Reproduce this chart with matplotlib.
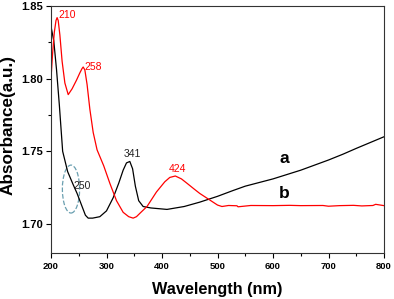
import matplotlib
matplotlib.use("Agg")
import matplotlib.pyplot as plt
from matplotlib.patches import Ellipse
from matplotlib.ticker import MultipleLocator

plt.rcParams['font.family'] = ['Liberation Sans', 'DejaVu Sans']

# curve a (black)
wl_a = [200, 205, 210, 215, 221, 230, 240, 247, 255, 262, 267, 275, 288, 300, 312, 322, 330,
        336, 342, 347, 352, 358, 366, 380, 409, 440, 468, 500, 528, 550, 600, 650, 700, 726, 750, 800]
abs_a = [1.836, 1.826, 1.806, 1.782, 1.750, 1.736, 1.727, 1.721, 1.713, 1.706, 1.704, 1.704, 1.705,
         1.709, 1.718, 1.728, 1.737, 1.742, 1.743, 1.738, 1.726, 1.716, 1.712, 1.711, 1.710, 1.712,
         1.715, 1.719, 1.723, 1.726, 1.731, 1.737, 1.744, 1.748, 1.752, 1.760]

# curve b (red)
wl_b = [200, 203, 206, 209, 211, 213, 216, 220, 225, 231, 238, 246, 252, 256, 258, 261, 265, 270,
        276, 283, 295, 306, 318, 330, 340, 348, 354, 362, 373, 390, 405, 414, 424, 435, 445, 458,
        468, 480, 492, 500, 508, 520, 535, 537, 560, 600, 630, 650, 690, 700, 720, 745, 760, 780,
        785, 800]
abs_b = [1.800, 1.818, 1.832, 1.840, 1.842, 1.840, 1.830, 1.812, 1.797, 1.789, 1.793, 1.799, 1.804,
         1.807, 1.808, 1.806, 1.796, 1.779, 1.763, 1.751, 1.740, 1.728, 1.716, 1.708, 1.705, 1.704,
         1.705, 1.708, 1.712, 1.722, 1.729, 1.732, 1.733, 1.731, 1.728, 1.724, 1.721, 1.718, 1.715,
         1.713, 1.712, 1.7127, 1.7125, 1.7118, 1.7127, 1.7126, 1.7128, 1.7126, 1.7127, 1.7122,
         1.7126, 1.7128, 1.7124, 1.7127, 1.7135, 1.7126]

fig = plt.figure(figsize=(3.94, 2.99), dpi=100)
ax = fig.add_axes([51/394, 1 - 253/299, 333/394, 247/299])

ax.plot(wl_a, abs_a, color='black', lw=0.9)
ax.plot(wl_b, abs_b, color='red', lw=0.9)

ax.set_xlim(200, 800)
ax.set_ylim(1.68, 1.85)
ax.xaxis.set_major_locator(MultipleLocator(100))
ax.xaxis.set_minor_locator(MultipleLocator(50))
ax.yaxis.set_major_locator(MultipleLocator(0.05))
ax.yaxis.set_minor_locator(MultipleLocator(0.025))
ax.tick_params(which='both', direction='out', top=False, right=False, width=0.8)
ax.tick_params(which='major', length=3.5)
ax.tick_params(which='minor', length=2)
ax.tick_params(axis='x', labelsize=6.8, pad=3)
ax.tick_params(axis='y', labelsize=8, pad=2)
for lab in ax.get_xticklabels() + ax.get_yticklabels():
    lab.set_fontweight('bold')
for s in ax.spines.values():
    s.set_linewidth(0.8)
    s.set_color('#333333')

ax.set_xlabel('Wavelength (nm)', fontsize=11.7, fontweight='bold')
ax.set_ylabel('Absorbance(a.u.)', fontsize=12.3, fontweight='bold')
ax.xaxis.set_label_coords(0.5, -29/247, transform=ax.transAxes)
ax.yaxis.set_label_coords(-35/333, 0.5 + 4.5/247, transform=ax.transAxes)

ax.text(213, 1.842, '210', color='red', fontsize=7.5)
ax.text(260, 1.806, '258', color='red', fontsize=7.5)
ax.text(331, 1.746, '341', color='#222222', fontsize=7.5)
ax.text(412, 1.736, '424', color='red', fontsize=7.5)
ax.text(240, 1.724, '250', color='#222222', fontsize=7.5)
ax.add_patch(Ellipse((236, 1.724), 31, 0.033, fill=False, ls='--', color='#6a9fb0', lw=0.9))

ax.text(621, 1.745, 'a', fontsize=12.5, fontweight='bold', ha='center', va='center')
ax.text(621, 1.721, 'b', fontsize=12.5, fontweight='bold', ha='center', va='center')

fig.savefig('out.png', dpi=100)
